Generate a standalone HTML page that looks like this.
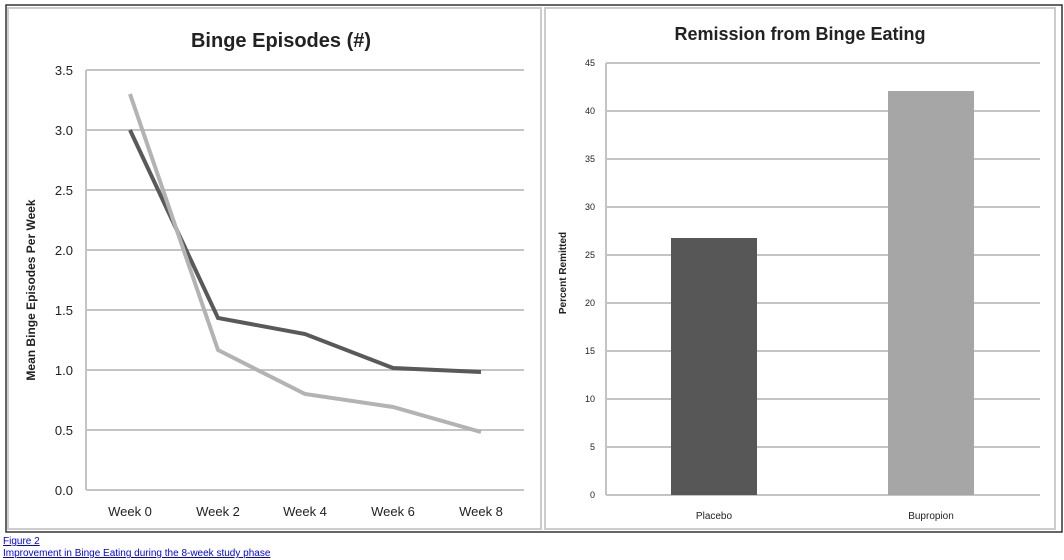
<!DOCTYPE html>
<html><head><meta charset="utf-8"><style>
body{margin:0;width:1064px;height:560px;background:#fff;overflow:hidden;font-family:"Liberation Sans",sans-serif}
a{color:#00e;font-size:10px;position:absolute;left:3px;text-decoration:underline}
</style></head><body>
<svg width="1064" height="535" style="position:absolute;left:0;top:0" font-family="Liberation Sans, sans-serif">
<rect x="6" y="5" width="1056" height="527" fill="#fff" stroke="#333" stroke-width="1.5"/>
<rect x="8" y="8" width="533" height="521" fill="#fff" stroke="#ccc" stroke-width="2"/>
<rect x="545" y="8" width="510" height="521" fill="#fff" stroke="#ccc" stroke-width="2"/>
<text x="281" y="47" text-anchor="middle" font-size="20" font-weight="bold" fill="#222">Binge Episodes (#)</text>
<g stroke="#c4c4c4" stroke-width="2">
<line x1="86" x2="524" y1="70" y2="70"/><line x1="86" x2="524" y1="130" y2="130"/><line x1="86" x2="524" y1="190" y2="190"/><line x1="86" x2="524" y1="250" y2="250"/><line x1="86" x2="524" y1="310" y2="310"/><line x1="86" x2="524" y1="370" y2="370"/><line x1="86" x2="524" y1="430" y2="430"/><line x1="86" x2="524" y1="490" y2="490"/>
<line x1="86" x2="86" y1="70" y2="490"/></g>
<g font-size="13" fill="#222" text-anchor="end">
<text x="73" y="75">3.5</text><text x="73" y="135">3.0</text><text x="73" y="195">2.5</text><text x="73" y="255">2.0</text><text x="73" y="315">1.5</text><text x="73" y="375">1.0</text><text x="73" y="435">0.5</text><text x="73" y="495">0.0</text></g>
<g font-size="13" fill="#222" text-anchor="middle">
<text x="130" y="516">Week 0</text><text x="218" y="516">Week 2</text><text x="305" y="516">Week 4</text><text x="393" y="516">Week 6</text><text x="481" y="516">Week 8</text></g>
<text transform="translate(35,290) rotate(-90)" text-anchor="middle" font-size="12" font-weight="bold" fill="#222">Mean Binge Episodes Per Week</text>
<polyline fill="none" stroke="#595959" stroke-width="4" points="130,130 218,318 305,334 393,368 481,372"/>
<polyline fill="none" stroke="#b3b3b3" stroke-width="4" points="130,94 218,350 305,394 393,407 481,432"/>
<text x="800" y="40" text-anchor="middle" font-size="18" font-weight="bold" fill="#222">Remission from Binge Eating</text>
<g stroke="#c4c4c4" stroke-width="2">
<line x1="606" x2="1040" y1="63" y2="63"/><line x1="606" x2="1040" y1="111" y2="111"/><line x1="606" x2="1040" y1="159" y2="159"/><line x1="606" x2="1040" y1="207" y2="207"/><line x1="606" x2="1040" y1="255" y2="255"/><line x1="606" x2="1040" y1="303" y2="303"/><line x1="606" x2="1040" y1="351" y2="351"/><line x1="606" x2="1040" y1="399" y2="399"/><line x1="606" x2="1040" y1="447" y2="447"/><line x1="606" x2="1040" y1="495" y2="495"/>
<line x1="606" x2="606" y1="63" y2="495"/></g>
<g font-size="9" fill="#222" text-anchor="end">
<text x="595" y="66">45</text><text x="595" y="114">40</text><text x="595" y="162">35</text><text x="595" y="210">30</text><text x="595" y="258">25</text><text x="595" y="306">20</text><text x="595" y="354">15</text><text x="595" y="402">10</text><text x="595" y="450">5</text><text x="595" y="498">0</text></g>
<text transform="translate(566,273) rotate(-90)" text-anchor="middle" font-size="10" font-weight="bold" fill="#222">Percent Remitted</text>
<rect x="671" y="238" width="86" height="257" fill="#575757"/>
<rect x="888" y="91" width="86" height="404" fill="#a6a6a6"/>
<g font-size="10" fill="#222" text-anchor="middle"><text x="714" y="519">Placebo</text><text x="931" y="519">Bupropion</text></g>
</svg>
<a style="top:536px">Figure 2</a>
<a style="top:548px">Improvement in Binge Eating during the 8-week study phase</a>
</body></html>
